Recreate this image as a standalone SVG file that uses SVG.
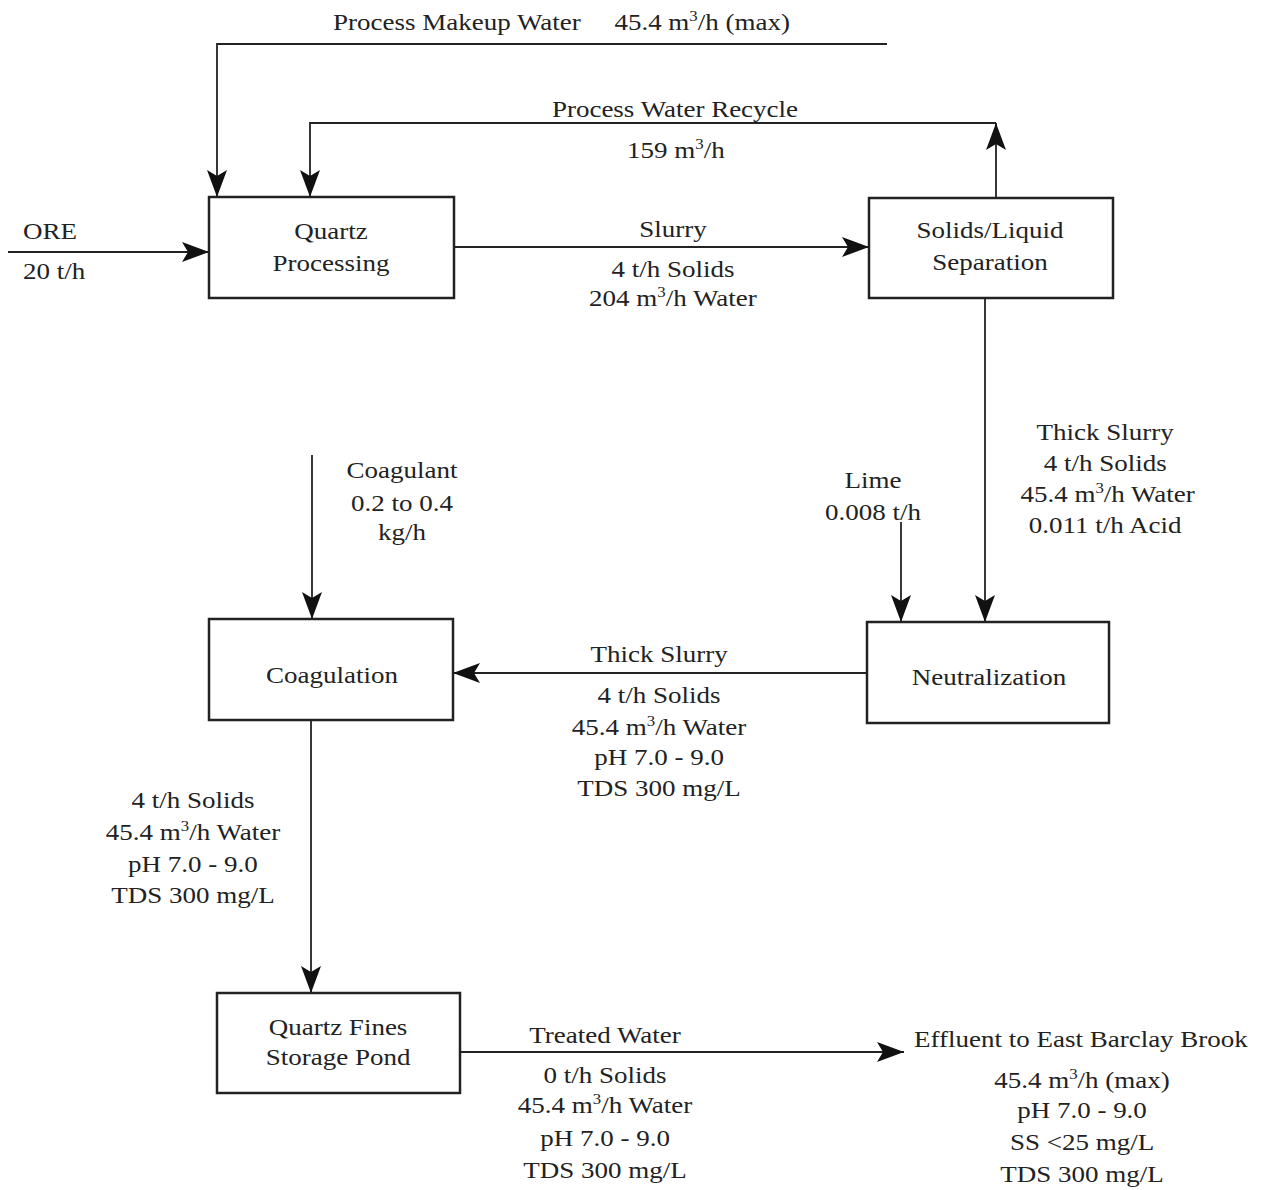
<svg xmlns="http://www.w3.org/2000/svg" width="1262" height="1190" viewBox="0 0 1262 1190">
<defs>
<style>
.box{fill:none;stroke:#222;stroke-width:2.5}
.ln{fill:none;stroke:#222;stroke-width:1.8}
text{font-family:"Liberation Serif","Times New Roman",serif;font-size:22.5px;fill:#222}
.m{text-anchor:middle}
.sup{font-size:14px}
</style>
<marker id="ah" markerUnits="userSpaceOnUse" markerWidth="28" markerHeight="20" refX="27" refY="10" orient="auto">
<path d="M0,0 L27,10 L0,20 L6,10 z" fill="#111"/>
</marker>
</defs>
<rect width="1262" height="1190" fill="#fff"/>
<g id="connectors">
<polyline class="ln" points="887,44 217,44 217,197" marker-end="url(#ah)"/>
<path class="ln" d="M996,198 L996,123" marker-end="url(#ah)"/>
<polyline class="ln" points="996,123 310,123 310,197" marker-end="url(#ah)"/>
<path class="ln" d="M8,252 L209,252" marker-end="url(#ah)"/>
<path class="ln" d="M454,247 L869,247" marker-end="url(#ah)"/>
<path class="ln" d="M985,298 L985,622" marker-end="url(#ah)"/>
<path class="ln" d="M901,522 L901,622" marker-end="url(#ah)"/>
<path class="ln" d="M312,455 L312,619" marker-end="url(#ah)"/>
<path class="ln" d="M867,673 L453,673" marker-end="url(#ah)"/>
<path class="ln" d="M311,720 L311,993" marker-end="url(#ah)"/>
<path class="ln" d="M460,1052 L904,1052" marker-end="url(#ah)"/>
</g>
<g id="quartz-processing"><rect class="box" x="209" y="197" width="245" height="101"/></g>
<g id="separation"><rect class="box" x="869" y="198" width="244" height="100"/></g>
<g id="neutralization"><rect class="box" x="867" y="622" width="242" height="101"/></g>
<g id="coagulation"><rect class="box" x="209" y="619" width="244" height="101"/></g>
<g id="pond"><rect class="box" x="217" y="993" width="243" height="100"/></g>
<g id="labels" transform="scale(1.2,1)">
<text x="277.5" y="30">Process Makeup Water</text>
<text x="512" y="30">45.4 m<tspan class="sup" dy="-9">3</tspan><tspan dy="9">/h (max)</tspan></text>
<text class="m" x="562.5" y="117">Process Water Recycle</text>
<text class="m" x="563.3" y="158">159 m<tspan class="sup" dy="-9">3</tspan><tspan dy="9">/h</tspan></text>
<text x="19.2" y="239">ORE</text>
<text x="19.2" y="279">20 t/h</text>
<text class="m" x="275.8" y="239">Quartz</text>
<text class="m" x="275.8" y="271">Processing</text>
<text class="m" x="560.8" y="237">Slurry</text>
<text class="m" x="560.8" y="277">4 t/h Solids</text>
<text class="m" x="560.8" y="306">204 m<tspan class="sup" dy="-9">3</tspan><tspan dy="9">/h Water</tspan></text>
<text class="m" x="825" y="238">Solids/Liquid</text>
<text class="m" x="825" y="270">Separation</text>
<text class="m" x="921" y="440">Thick Slurry</text>
<text class="m" x="921" y="471">4 t/h Solids</text>
<text class="m" x="923" y="502">45.4 m<tspan class="sup" dy="-9">3</tspan><tspan dy="9">/h Water</tspan></text>
<text class="m" x="921" y="533">0.011 t/h Acid</text>
<text class="m" x="335" y="478">Coagulant</text>
<text class="m" x="335" y="511">0.2 to 0.4</text>
<text class="m" x="335" y="540">kg/h</text>
<text class="m" x="727.5" y="488">Lime</text>
<text class="m" x="727.5" y="520">0.008 t/h</text>
<text class="m" x="276.7" y="683">Coagulation</text>
<text class="m" x="824.2" y="685">Neutralization</text>
<text class="m" x="549.2" y="662">Thick Slurry</text>
<text class="m" x="549.2" y="703">4 t/h Solids</text>
<text class="m" x="549.2" y="735">45.4 m<tspan class="sup" dy="-9">3</tspan><tspan dy="9">/h Water</tspan></text>
<text class="m" x="549.2" y="765">pH 7.0 - 9.0</text>
<text class="m" x="549.2" y="796">TDS 300 mg/L</text>
<text class="m" x="160.8" y="808">4 t/h Solids</text>
<text class="m" x="160.8" y="840">45.4 m<tspan class="sup" dy="-9">3</tspan><tspan dy="9">/h Water</tspan></text>
<text class="m" x="160.8" y="872">pH 7.0 - 9.0</text>
<text class="m" x="160.8" y="903">TDS 300 mg/L</text>
<text class="m" x="281.7" y="1035">Quartz Fines</text>
<text class="m" x="281.7" y="1065">Storage Pond</text>
<text class="m" x="504.2" y="1043">Treated Water</text>
<text class="m" x="504.2" y="1083">0 t/h Solids</text>
<text class="m" x="504.2" y="1113">45.4 m<tspan class="sup" dy="-9">3</tspan><tspan dy="9">/h Water</tspan></text>
<text class="m" x="504.2" y="1146">pH 7.0 - 9.0</text>
<text class="m" x="504.2" y="1178">TDS 300 mg/L</text>
<text x="761.7" y="1047">Effluent to East Barclay Brook</text>
<text class="m" x="901.7" y="1088">45.4 m<tspan class="sup" dy="-9">3</tspan><tspan dy="9">/h (max)</tspan></text>
<text class="m" x="901.7" y="1118">pH 7.0 - 9.0</text>
<text class="m" x="901.7" y="1150">SS &lt;25 mg/L</text>
<text class="m" x="901.7" y="1182">TDS 300 mg/L</text>
</g>
</svg>
